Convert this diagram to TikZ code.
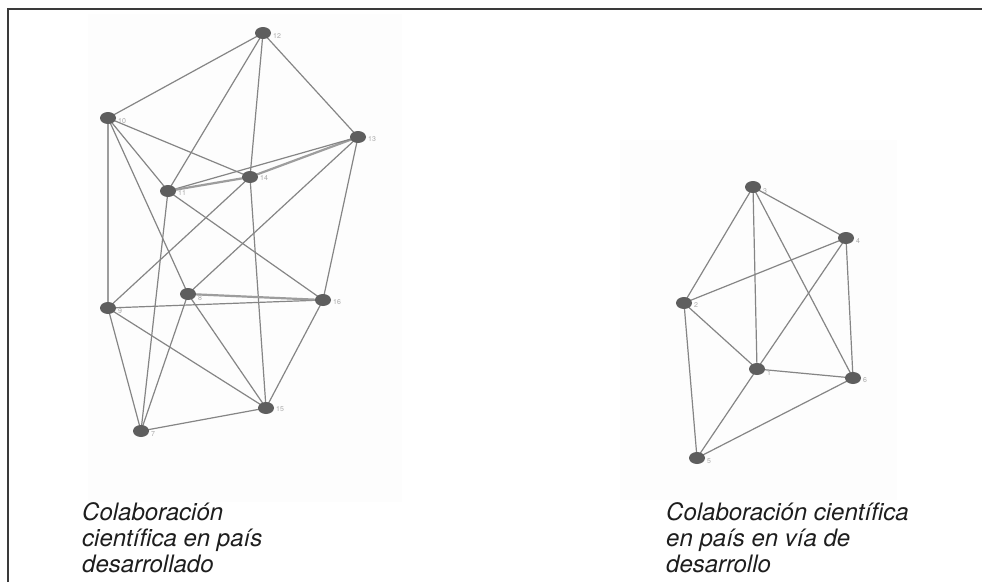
\documentclass[tikz,border=0pt]{standalone}
\usepackage{fontspec}
\setmainfont{TeX Gyre Heros}
\usetikzlibrary{shapes.geometric,backgrounds}
\pgfdeclarelayer{panellayer}
\pgfsetlayers{panellayer,background,main}
\definecolor{edgecol}{HTML}{858585}
\definecolor{nodecol}{HTML}{5E5E5E}
\definecolor{labcol}{HTML}{A8A8A8}
\definecolor{framecol}{HTML}{3A3A3A}
\definecolor{txtcol}{HTML}{1E1E1E}
\tikzset{
  vtx/.style={ellipse, fill=nodecol, minimum width=16pt, minimum height=12pt, inner sep=0pt},
  vlab/.style={font=\fontsize{7}{7}\selectfont, text=labcol, inner sep=0pt, anchor=west},
  edge/.style={draw=edgecol, line width=1.2pt},
  heavy/.style={draw=edgecol!80, line width=2.2pt},
  caption/.style={font=\fontsize{24}{27}\selectfont\itshape, text=txtcol, anchor=base west, inner sep=0pt},
  panel/.style={fill=black!0.8, draw=none}
}
\begin{document}
\begin{tikzpicture}[x=1pt,y=-1pt]
\useasboundingbox (0,0) rectangle (982,582);
\begin{pgfonlayer}{panellayer}
% faint panels
\fill[panel] (88,14) rectangle (402,502);
\fill[panel] (620,140) rectangle (897,500);
% frame
\draw[framecol, line width=1.5pt] (8,582) -- (8,9) -- (982,9);
\end{pgfonlayer}

% left graph nodes
\node[vtx] (n12) at (263,33) {};
\node[vtx] (n10) at (108,118) {};
\node[vtx] (n13) at (358,137) {};
\node[vtx] (n14) at (250,177) {};
\node[vtx] (n11) at (168,191) {};
\node[vtx] (n8)  at (188,294) {};
\node[vtx] (n9)  at (108,308) {};
\node[vtx] (n16) at (323,300) {};
\node[vtx] (n15) at (266,408) {};
\node[vtx] (n7)  at (141,431) {};

% right graph nodes
\node[vtx] (r3) at (753,187) {};
\node[vtx] (r4) at (846,238) {};
\node[vtx] (r2) at (684,303) {};
\node[vtx] (r1) at (757,369) {};
\node[vtx] (r6) at (853,378) {};
\node[vtx] (r5) at (697,458) {};

% labels
\node[vlab] (l12) at ([xshift=10pt,yshift=-3pt]n12.center) {12};
\node[vlab] (l10) at ([xshift=10pt,yshift=-3pt]n10.center) {10};
\node[vlab] (l13) at ([xshift=10pt,yshift=-2pt]n13.center) {13};
\node[vlab] (l14) at ([xshift=10pt,yshift=-1pt]n14.center) {14};
\node[vlab] (l11) at ([xshift=10pt,yshift=-2pt]n11.center) {11};
\node[vlab] (l8)  at ([xshift=10pt,yshift=-4pt]n8.center) {8};
\node[vlab] (l9)  at ([xshift=10pt,yshift=-3pt]n9.center) {9};
\node[vlab] (l16) at ([xshift=10pt,yshift=-2pt]n16.center) {16};
\node[vlab] (l15) at ([xshift=10pt,yshift=-1pt]n15.center) {15};
\node[vlab] (l7)  at ([xshift=10pt,yshift=-3pt]n7.center) {7};
\node[vlab] (m3) at ([xshift=10pt,yshift=-4pt]r3.center) {3};
\node[vlab] (m4) at ([xshift=10pt,yshift=-3pt]r4.center) {4};
\node[vlab] (m2) at ([xshift=10pt,yshift=-2pt]r2.center) {2};
\node[vlab] (m1) at ([xshift=10pt,yshift=-4pt]r1.center) {1};
\node[vlab] (m6) at ([xshift=10pt,yshift=-2pt]r6.center) {6};
\node[vlab] (m5) at ([xshift=10pt,yshift=-3pt]r5.center) {5};

\begin{pgfonlayer}{background}
% left edges
\draw[edge] (n12.center) -- (n10.center);
\draw[edge] (n12.center) -- (n11.center);
\draw[edge] (n12.center) -- (n14.center);
\draw[edge] (n12.center) -- (n13.center);
\draw[edge] (n10.center) -- (n14.center);
\draw[edge] (n10.center) -- (n11.center);
\draw[edge] (n10.center) -- (n8.center);
\draw[heavy] (n10.center) -- (n9.center);
\draw[heavy] (n13.center) -- (n14.center);
\draw[edge] (n13.center) -- (n11.center);
\draw[edge] (n13.center) -- (n8.center);
\draw[edge] (n13.center) -- (n16.center);
\draw[heavy] (n14.center) -- (n11.center);
\draw[edge] (n14.center) -- (n15.center);
\draw[edge] (n14.center) -- (n9.center);
\draw[edge] (n11.center) -- (n16.center);
\draw[edge] (n11.center) -- (n7.center);
\draw[edge] (n9.center) -- (n16.center);
\draw[edge] (n9.center) -- (n7.center);
\draw[edge] (n9.center) -- (n15.center);
\draw[heavy] (n8.center) -- (n16.center);
\draw[edge] (n8.center) -- (n15.center);
\draw[edge] (n8.center) -- (n7.center);
\draw[edge] (n7.center) -- (n15.center);
\draw[edge] (n16.center) -- (n15.center);
% right edges
\draw[edge] (r3.center) -- (r4.center);
\draw[edge] (r3.center) -- (r2.center);
\draw[edge] (r3.center) -- (r1.center);
\draw[edge] (r3.center) -- (r6.center);
\draw[edge] (r4.center) -- (r2.center);
\draw[edge] (r4.center) -- (r1.center);
\draw[edge] (r4.center) -- (r6.center);
\draw[edge] (r2.center) -- (r1.center);
\draw[edge] (r2.center) -- (r5.center);
\draw[edge] (r1.center) -- (r6.center);
\draw[edge] (r1.center) -- (r5.center);
\draw[edge] (r6.center) -- (r5.center);
\end{pgfonlayer}

% captions
\node[caption] (ca1) at (82,520) {Colaboración};
\node[caption] (ca2) at (82,546) {científica en país};
\node[caption] (ca3) at (82,572) {desarrollado};
\node[caption] (cb1) at (666,520) {Colaboración científica};
\node[caption] (cb2) at (666,546) {en país en vía de};
\node[caption] (cb3) at (666,572) {desarrollo};
\end{tikzpicture}
\end{document}
